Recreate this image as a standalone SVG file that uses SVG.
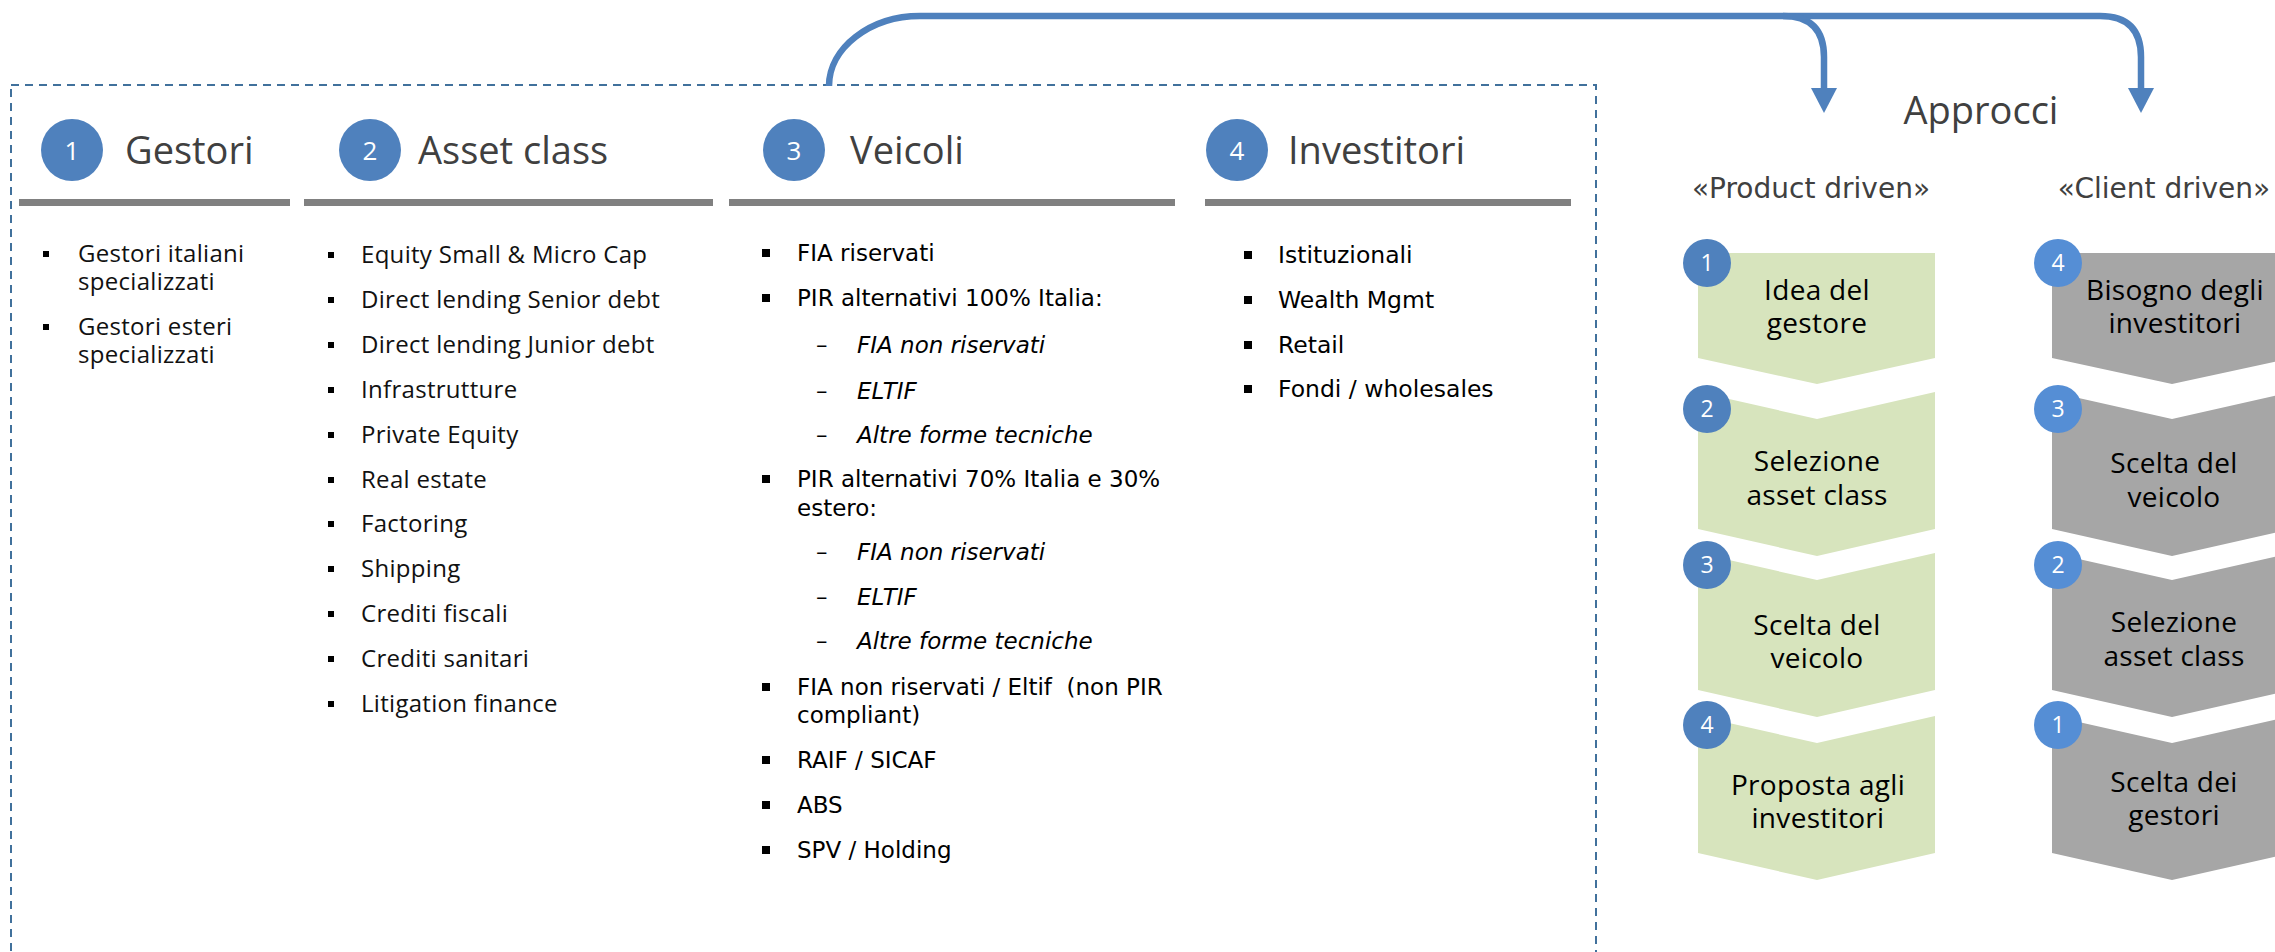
<svg xmlns="http://www.w3.org/2000/svg" width="2275" height="952" viewBox="0 0 2275 952">
<defs>
<marker id="ah" markerUnits="userSpaceOnUse" markerWidth="25" markerHeight="26" viewBox="0 0 25 26" refX="1" refY="13" orient="auto"><path d="M0,0 L25,13 L0,26 z" fill="#4F81BD"/></marker>
</defs>
<style>
.hd{font-family:"Open Sans",sans-serif;font-size:38px;fill:#404040}
.num{font-family:"Open Sans",sans-serif;font-size:26px;fill:#fff;text-anchor:middle}
.num2{font-family:"Open Sans",sans-serif;font-size:23px;fill:#fff;text-anchor:middle}
.b1{font-family:"Open Sans",sans-serif;font-size:24px;letter-spacing:0.3px;fill:#111}
.b3{font-family:"DejaVu Sans",sans-serif;font-size:23px;fill:#000}
.b4{font-family:"DejaVu Sans",sans-serif;font-size:23.5px;fill:#000}
.it{font-style:italic}
.bar{fill:#808080}
.bul{fill:#000}
.cg{fill:#D7E4BD}
.cy{fill:#A6A6A6}
.ct{font-family:"Open Sans",sans-serif;font-size:28px;letter-spacing:0.3px;fill:#000;text-anchor:middle}
.c1{fill:#4F81BD}
.c2{fill:#558ED5}
.sub{font-family:"DejaVu Sans",sans-serif;font-size:28px;fill:#404040;text-anchor:middle}
.conn{fill:none;stroke:#4F81BD;stroke-width:6.5}
</style>

<g id="frame">
<rect x="11" y="85" width="1585" height="920" fill="none" stroke="#41719C" stroke-width="2" stroke-dasharray="8 6"/>
</g>

<g id="connectors">
<path class="conn" d="M829 86 C829 48 870 16 920 16 L2100 16 Q2141 16 2141 57 L2141 89" marker-end="url(#ah)"/>
<path class="conn" d="M1783 16 Q1824 16 1824 57 L1824 89" marker-end="url(#ah)"/>
</g>

<g id="col-gestori">
<circle class="c1" cx="72" cy="150" r="31"/>
<text class="num" x="72" y="160">1</text>
<text class="hd" x="125" y="164">Gestori</text>
<rect class="bar" x="19" y="199" width="271" height="7"/>
<rect class="bul" x="43" y="251" width="6" height="6"/>
<text class="b1" x="78" y="262">Gestori italiani<tspan x="78" dy="28">specializzati</tspan></text>
<rect class="bul" x="43" y="324" width="6" height="6"/>
<text class="b1" x="78" y="335">Gestori esteri<tspan x="78" dy="28">specializzati</tspan></text>
</g>

<g id="col-asset">
<circle class="c1" cx="370" cy="150" r="31"/>
<text class="num" x="370" y="160">2</text>
<text class="hd" x="418" y="164">Asset class</text>
<rect class="bar" x="304" y="199" width="409" height="7"/>
<g class="bul">
<rect x="328" y="252" width="6" height="6"/>
<rect x="328" y="297" width="6" height="6"/>
<rect x="328" y="342" width="6" height="6"/>
<rect x="328" y="387" width="6" height="6"/>
<rect x="328" y="432" width="6" height="6"/>
<rect x="328" y="477" width="6" height="6"/>
<rect x="328" y="521" width="6" height="6"/>
<rect x="328" y="566" width="6" height="6"/>
<rect x="328" y="611" width="6" height="6"/>
<rect x="328" y="656" width="6" height="6"/>
<rect x="328" y="701" width="6" height="6"/>
</g>
<text class="b1" x="361" y="263">Equity Small &amp; Micro Cap</text>
<text class="b1" x="361" y="308">Direct lending Senior debt</text>
<text class="b1" x="361" y="353">Direct lending Junior debt</text>
<text class="b1" x="361" y="398">Infrastrutture</text>
<text class="b1" x="361" y="443">Private Equity</text>
<text class="b1" x="361" y="488">Real estate</text>
<text class="b1" x="361" y="532">Factoring</text>
<text class="b1" x="361" y="577">Shipping</text>
<text class="b1" x="361" y="622">Crediti fiscali</text>
<text class="b1" x="361" y="667">Crediti sanitari</text>
<text class="b1" x="361" y="712">Litigation finance</text>
</g>

<g id="col-veicoli">
<circle class="c1" cx="794" cy="150" r="31"/>
<text class="num" x="794" y="160">3</text>
<text class="hd" x="850" y="164">Veicoli</text>
<rect class="bar" x="729" y="199" width="446" height="7"/>
<g class="bul">
<rect x="762" y="249" width="8" height="8"/>
<rect x="762" y="294" width="8" height="8"/>
<rect x="762" y="475" width="8" height="8"/>
<rect x="762" y="683" width="8" height="8"/>
<rect x="762" y="756" width="8" height="8"/>
<rect x="762" y="801" width="8" height="8"/>
<rect x="762" y="846" width="8" height="8"/>
</g>
<text class="b3" x="797" y="261">FIA riservati</text>
<text class="b3" x="797" y="306">PIR alternativi 100% Italia:</text>
<text class="b3" x="816" y="353">–</text>
<text class="b3 it" x="857" y="353">FIA non riservati</text>
<text class="b3" x="816" y="399">–</text>
<text class="b3 it" x="857" y="399">ELTIF</text>
<text class="b3" x="816" y="443">–</text>
<text class="b3 it" x="857" y="443">Altre forme tecniche</text>
<text class="b3" x="797" y="487">PIR alternativi 70% Italia e 30%<tspan x="797" dy="29">estero:</tspan></text>
<text class="b3" x="816" y="560">–</text>
<text class="b3 it" x="857" y="560">FIA non riservati</text>
<text class="b3" x="816" y="605">–</text>
<text class="b3 it" x="857" y="605">ELTIF</text>
<text class="b3" x="816" y="649">–</text>
<text class="b3 it" x="857" y="649">Altre forme tecniche</text>
<text class="b3" x="797" y="695" xml:space="preserve">FIA non riservati / Eltif  (non PIR<tspan x="797" dy="28">compliant)</tspan></text>
<text class="b3" x="797" y="768">RAIF / SICAF</text>
<text class="b3" x="797" y="813">ABS</text>
<text class="b3" x="797" y="858">SPV / Holding</text>
</g>

<g id="col-investitori">
<circle class="c1" cx="1237" cy="150" r="31"/>
<text class="num" x="1237" y="160">4</text>
<text class="hd" x="1288" y="164">Investitori</text>
<rect class="bar" x="1205" y="199" width="366" height="7"/>
<g class="bul">
<rect x="1244" y="251" width="8" height="8"/>
<rect x="1244" y="296" width="8" height="8"/>
<rect x="1244" y="341" width="8" height="8"/>
<rect x="1244" y="385" width="8" height="8"/>
</g>
<text class="b4" x="1278" y="263">Istituzionali</text>
<text class="b4" x="1278" y="308">Wealth Mgmt</text>
<text class="b4" x="1278" y="353">Retail</text>
<text class="b4" x="1278" y="397">Fondi / wholesales</text>
</g>

<g id="approcci">
<text class="hd" x="1981" y="124" text-anchor="middle">Approcci</text>
<text class="sub" x="1811" y="198">«Product driven»</text>
<text class="sub" x="2164" y="198">«Client driven»</text>
</g>

<g id="product-1">
<path class="cg" d="M1698 253 H1935 V358 L1817 384 L1698 358 Z"/>
<circle class="c1" cx="1707" cy="263" r="24"/>
<text class="num2" x="1707" y="271">1</text>
<text class="ct" x="1817" y="300">Idea del<tspan x="1817" dy="33">gestore</tspan></text>
</g>
<g id="product-2">
<path class="cg" d="M1698 392 L1817 419 L1935 392 V529 L1817 556 L1698 529 Z"/>
<circle class="c1" cx="1707" cy="409" r="24"/>
<text class="num2" x="1707" y="417">2</text>
<text class="ct" x="1817" y="471">Selezione<tspan x="1817" dy="34">asset class</tspan></text>
</g>
<g id="product-3">
<path class="cg" d="M1698 553 L1817 580 L1935 553 V690 L1817 717 L1698 690 Z"/>
<circle class="c1" cx="1707" cy="565" r="24"/>
<text class="num2" x="1707" y="573">3</text>
<text class="ct" x="1817" y="635">Scelta del<tspan x="1817" dy="33">veicolo</tspan></text>
</g>
<g id="product-4">
<path class="cg" d="M1698 716 L1817 743 L1935 716 V853 L1817 880 L1698 853 Z"/>
<circle class="c1" cx="1707" cy="725" r="24"/>
<text class="num2" x="1707" y="733">4</text>
<text class="ct" x="1818" y="795">Proposta agli<tspan x="1818" dy="33">investitori</tspan></text>
</g>

<g id="client-4">
<path class="cy" d="M2052 253 H2292 V358 L2172 384 L2052 358 Z"/>
<circle class="c2" cx="2058" cy="263" r="24"/>
<text class="num2" x="2058" y="271">4</text>
<text class="ct" x="2175" y="300">Bisogno degli<tspan x="2175" dy="33">investitori</tspan></text>
</g>
<g id="client-3">
<path class="cy" d="M2052 392 L2172 419 L2292 392 V529 L2172 556 L2052 529 Z"/>
<circle class="c2" cx="2058" cy="409" r="24"/>
<text class="num2" x="2058" y="417">3</text>
<text class="ct" x="2174" y="473">Scelta del<tspan x="2174" dy="34">veicolo</tspan></text>
</g>
<g id="client-2">
<path class="cy" d="M2052 553 L2172 580 L2292 553 V690 L2172 717 L2052 690 Z"/>
<circle class="c2" cx="2058" cy="565" r="24"/>
<text class="num2" x="2058" y="573">2</text>
<text class="ct" x="2174" y="632">Selezione<tspan x="2174" dy="34">asset class</tspan></text>
</g>
<g id="client-1">
<path class="cy" d="M2052 716 L2172 743 L2292 716 V853 L2172 880 L2052 853 Z"/>
<circle class="c2" cx="2058" cy="725" r="24"/>
<text class="num2" x="2058" y="733">1</text>
<text class="ct" x="2174" y="792">Scelta dei<tspan x="2174" dy="33">gestori</tspan></text>
</g>
</svg>
